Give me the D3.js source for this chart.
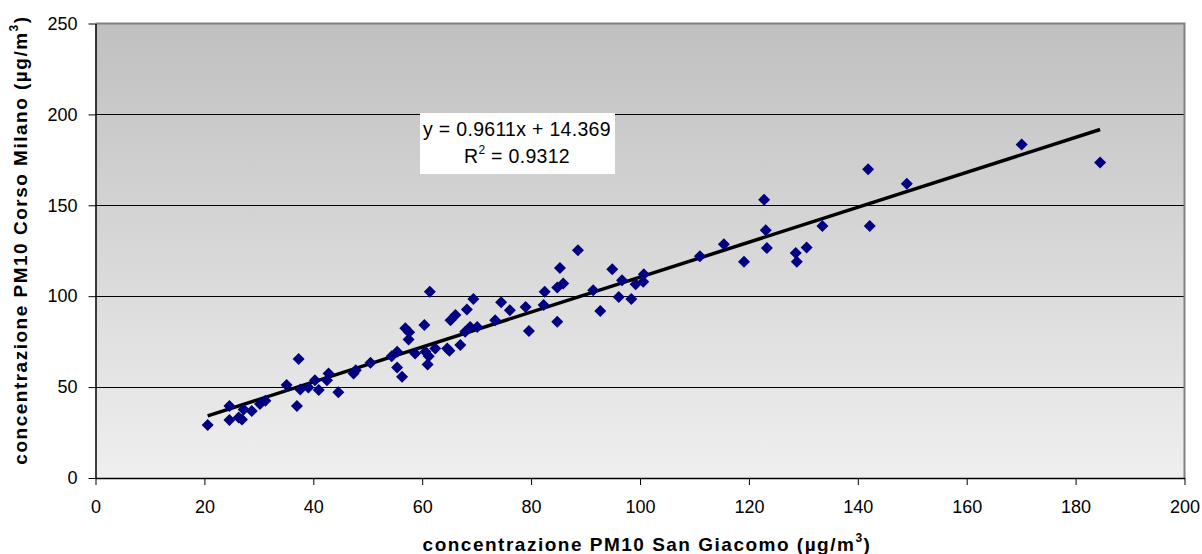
<!DOCTYPE html>
<html><head><meta charset="utf-8">
<script src="https://cdn.jsdelivr.net/npm/d3@7"></script>
<style>body{margin:0;background:#fff;} svg{display:block;font-family:"Liberation Sans",Arial,sans-serif;}</style>
</head><body>
<svg id="c" width="1202" height="554"></svg>
<script>
const xVals = [20.6,24.6,24.6,26.3,26.9,27.2,28.7,30.2,31.2,35.1,37.3,37.0,37.6,39.1,40.3,41.0,42.5,42.8,44.6,47.4,47.8,50.5,54.4,55.4,55.4,56.3,56.9,57.6,57.5,58.7,60.4,60.6,61.0,61.2,61.4,62.4,64.6,65.0,65.2,66.1,67.0,67.9,68.2,68.8,69.4,70.1,73.4,74.5,76.1,79.0,79.6,82.3,82.5,84.8,84.8,85.3,85.9,88.6,91.4,92.7,94.9,96.1,96.7,98.4,99.2,100.6,100.7,111.0,115.4,119.1,122.8,123.1,123.3,128.6,128.8,130.6,133.5,141.9,142.2,149.0,170.1,184.5];
const yVals = [29.1,39.6,31.9,33.3,32.2,37.7,36.8,40.7,42.5,51.1,65.4,39.6,48.7,49.8,53.8,48.4,53.8,57.5,47.1,57.5,59.3,63.4,67.0,69.4,60.8,55.7,82.4,80.2,76.2,68.5,84.1,69.4,62.5,67.0,102.4,71.3,71.3,70.0,86.8,89.6,73.1,80.4,92.7,83.1,98.5,83.1,86.8,96.7,92.3,94.1,80.9,95.1,102.4,85.9,104.8,115.5,107.0,125.3,103.3,91.9,114.8,99.6,108.8,98.5,106.6,107.9,112.1,122.0,128.6,118.9,153.1,136.3,126.5,123.8,118.9,126.8,138.6,169.8,138.6,161.9,183.4,173.5];
const xTicks = [0,20,40,60,80,100,120,140,160,180,200];
const yTicks = [0,50,100,150,200,250];
const slope = 0.9611, intercept = 14.369;
const eqLabel = "y = 0.9611x + 14.369";
const r2Value = "0.9312";

const svg = d3.select("#c");
const L=95.5, R=1184.5, T=23.5, B=478;
const x = d3.scaleLinear().domain([0,200]).range([L,R]);
const y = d3.scaleLinear().domain([0,250]).range([B,T]);

const defs = svg.append("defs");
const g = defs.append("linearGradient").attr("id","bg").attr("x1",0).attr("y1",0).attr("x2",0).attr("y2",1);
g.append("stop").attr("offset","0%").attr("stop-color","#c0c0c0");
g.append("stop").attr("offset","100%").attr("stop-color","#efefef");
svg.append("rect").attr("x",L).attr("y",T).attr("width",R-L).attr("height",B-T).attr("fill","url(#bg)");

// gridlines
svg.append("g").selectAll("line").data(yTicks.filter(d=>d>0&&d<250)).join("line")
  .attr("x1",L).attr("x2",R).attr("y1",d=>Math.round(y(d))+0.5).attr("y2",d=>Math.round(y(d))+0.5)
  .attr("stroke","#000").attr("stroke-width",1);
// top/right border
svg.append("path").attr("d",`M${L},${T}H${R}V${B}`).attr("fill","none").attr("stroke","#808080").attr("stroke-width",2);

// axes
const xAxis = d3.axisBottom(x).tickValues(xTicks).tickSize(7).tickPadding(15).tickSizeOuter(0);
const yAxis = d3.axisLeft(y).tickValues(yTicks).tickSize(7).tickPadding(11).tickSizeOuter(0);
const gx = svg.append("g").attr("transform",`translate(0,${B})`).call(xAxis);
const gy = svg.append("g").attr("transform",`translate(${L},0)`).call(yAxis);
[gx,gy].forEach(a=>{
  a.select(".domain").attr("stroke","#000").attr("stroke-width",1.5);
  a.selectAll(".tick line").attr("stroke","#000");
  a.selectAll("text").attr("font-size","18px").attr("fill","#000").attr("font-family","Liberation Sans, Arial, sans-serif");
});

// regression line
const x0 = d3.min(xVals), x1 = d3.max(xVals);
svg.append("line").attr("x1",x(x0)).attr("y1",y(slope*x0+intercept)).attr("x2",x(x1)).attr("y2",y(slope*x1+intercept))
  .attr("stroke","#000").attr("stroke-width",3.5);

// points
const s=6;
svg.append("g").selectAll("path").data(xVals.map((v,i)=>[v,yVals[i]])).join("path")
  .attr("d",d=>{const cx=x(d[0]),cy=y(d[1]);return `M${cx},${cy-s}L${cx+s},${cy}L${cx},${cy+s}L${cx-s},${cy}Z`;})
  .attr("fill","#000080");

// equation box
svg.append("rect").attr("x",420).attr("y",113).attr("width",195).attr("height",61).attr("fill","#fff");
svg.append("text").attr("x",517).attr("y",136).attr("text-anchor","middle").attr("font-size","19.5px").attr("letter-spacing","0.3px").text(eqLabel);
const t2 = svg.append("text").attr("x",517).attr("y",163).attr("text-anchor","middle").attr("font-size","19.5px").attr("letter-spacing","0.3px");
t2.append("tspan").text("R");
t2.append("tspan").attr("font-size","12px").attr("dy",-9).text("2");
t2.append("tspan").attr("dy",9).text(" = "+r2Value);

// axis titles
const xt = svg.append("text").attr("x",647).attr("y",551).attr("text-anchor","middle").attr("font-size","19px").attr("font-weight","bold").attr("letter-spacing","1.5px");
xt.append("tspan").text("concentrazione PM10 San Giacomo (µg/m");
xt.append("tspan").attr("font-size","12px").attr("dy",-9).text("3");
xt.append("tspan").attr("dy",9).text(")");
const yt = svg.append("text").attr("transform","translate(27,240) rotate(-90)").attr("text-anchor","middle").attr("font-size","19px").attr("font-weight","bold").attr("letter-spacing","1.5px");
yt.append("tspan").text("concentrazione PM10 Corso Milano (µg/m");
yt.append("tspan").attr("font-size","12px").attr("dy",-9).text("3");
yt.append("tspan").attr("dy",9).text(")");
</script>
</body></html>
